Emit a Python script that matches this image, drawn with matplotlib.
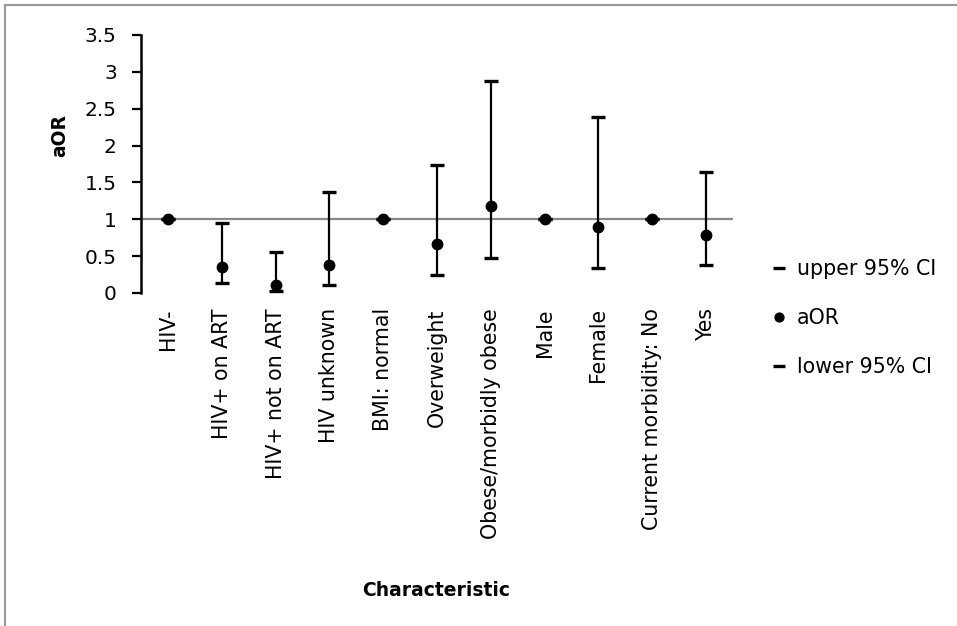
import matplotlib
matplotlib.use("Agg")
import matplotlib.pyplot as plt
from matplotlib.lines import Line2D

plt.rcParams['font.family'] = ['DejaVu Sans']

categories = ["HIV-", "HIV+ on ART", "HIV+ not on ART", "HIV unknown",
              "BMI: normal", "Overweight", "Obese/morbidly obese",
              "Male", "Female", "Current morbidity: No", "Yes"]
aor = [1, 0.35, 0.11, 0.38, 1, 0.66, 1.18, 1, 0.90, 1, 0.79]
upper_ci = [1, 0.95, 0.55, 1.37, 1, 1.74, 2.87, 1, 2.39, 1, 1.64]
lower_ci = [1, 0.13, 0.03, 0.11, 1, 0.25, 0.48, 1, 0.34, 1, 0.38]
yticks = [0, 0.5, 1, 1.5, 2, 2.5, 3, 3.5]
ytick_labels = ["0", "0.5", "1", "1.5", "2", "2.5", "3", "3.5"]

fig = plt.figure(figsize=(9.57, 6.26), dpi=100)
ax = fig.add_axes([141 / 957, 1 - 293 / 626, 592 / 957, 258 / 626])

x = list(range(len(categories)))

# high-low lines between the CI bounds
ax.vlines(x, lower_ci, upper_ci, color="black", lw=1.6, zorder=2)
ax.plot(x, upper_ci, ls="none", marker="_", ms=9.5, mew=2.4, color="black",
        label="upper 95% CI", zorder=3)
ax.plot(x, aor, ls="none", marker="o", ms=7.5, color="black",
        label="aOR", zorder=4)
ax.plot(x, lower_ci, ls="none", marker="_", ms=9.5, mew=2.4, color="black",
        label="lower 95% CI", zorder=3)

# horizontal axis crosses at 1
ax.axhline(1, color="#888888", lw=1.6, zorder=1)

ax.set_xlim(-0.5, len(categories) - 0.5)
ax.set_ylim(0, 3.5)
ax.set_yticks(yticks)
ax.set_yticklabels(ytick_labels, fontsize=14.5)
ax.set_xticks(x)
ax.set_xticklabels(categories, rotation=90, fontsize=14.8, va="top", ha="center")
ax.tick_params(axis="x", length=0, pad=11)
ax.tick_params(axis="y", length=6.5, width=1.6, direction="out", pad=11)

for side in ["top", "right", "bottom"]:
    ax.spines[side].set_visible(False)
ax.spines["left"].set_linewidth(1.8)

fig.text(60 / 957, 1 - 136 / 626, "aOR", rotation=90, fontsize=13.5,
         fontweight="bold", ha="center", va="center")
fig.text(436 / 957, 1 - 590 / 626, "Characteristic", fontsize=13.5,
         fontweight="bold", ha="center", va="center")

fig.legend(loc="center left", bbox_to_anchor=(773 / 957, 1 - 318 / 626),
           frameon=False, fontsize=14.8, labelspacing=1.4, handlelength=0.6,
           handletextpad=0.55, markerscale=0.85, borderpad=0, borderaxespad=0)

# chart frame
fig.add_artist(Line2D([4.5 / 957, 4.5 / 957], [0, 1 - 5 / 626],
                      transform=fig.transFigure, color="#999999", lw=1.5))
fig.add_artist(Line2D([4.5 / 957, 1], [1 - 5 / 626, 1 - 5 / 626],
                      transform=fig.transFigure, color="#999999", lw=1.5))

fig.savefig("out.png", dpi=100)
